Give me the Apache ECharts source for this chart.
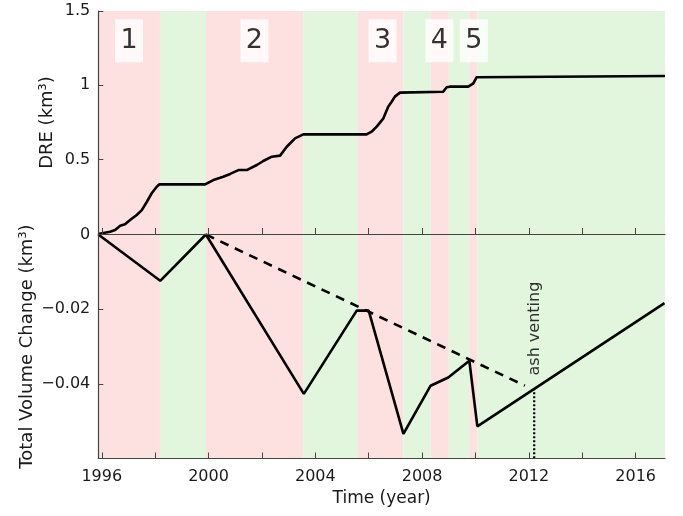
<!DOCTYPE html>
<html>
<head>
<meta charset="utf-8">
<script src="https://cdn.jsdelivr.net/npm/echarts@6/dist/echarts.min.js"></script>
<style>html,body{margin:0;padding:0;background:#fff;}#c{width:683px;height:516px;}</style>
</head>
<body>
<div id="c"></div>
<script>
// ---- data ----
const dreYears = [1995.87, 1996.31, 1996.5, 1996.69, 1996.87, 1997.06, 1997.31, 1997.5, 1997.69, 1997.87, 1998.06, 1998.16, 1999.87, 2000.18, 2000.55, 2000.81, 2001.12, 2001.43, 2001.81, 2002.05, 2002.37, 2002.68, 2002.93, 2003.24, 2003.55, 2005.92, 2006.11, 2006.3, 2006.55, 2006.73, 2006.86, 2006.98, 2007.17, 2008.79, 2008.92, 2009.04, 2009.73, 2009.92, 2010.04, 2010.1, 2017.1];
const dreValues = [0, 0.015, 0.027, 0.056, 0.065, 0.094, 0.128, 0.161, 0.217, 0.274, 0.318, 0.334, 0.334, 0.363, 0.385, 0.404, 0.43, 0.43, 0.464, 0.491, 0.52, 0.527, 0.587, 0.643, 0.670, 0.670, 0.688, 0.722, 0.778, 0.856, 0.89, 0.924, 0.951, 0.957, 0.987, 0.991, 0.991, 1.013, 1.054, 1.063, 1.063];

const volYears = [1995.87, 1998.19, 1999.9, 2003.57, 2005.55, 2006.0, 2007.3, 2008.32, 2008.98, 2009.77, 2010.07, 2017.08];
const volValues = [0, -0.0124, 0, -0.0427, -0.0204, -0.0204, -0.0534, -0.0405, -0.0383, -0.0338, -0.0514, -0.0184];

const trendYears = [1999.9, 2011.85];
const trendValues = [0, -0.0405];

const ashYears = [2012.2, 2012.2];
const ashValues = [-0.0412, -0.06];
const ashLabel = 'ash venting';
const ashLabelPos = [2012.23, -0.0252];

const bandEdges = [1995.87, 1998.18, 1999.9, 2003.55, 2005.59, 2007.3, 2008.32, 2009.0, 2009.77, 2010.08, 2017.1];
const bandKinds = ['eruptive', 'pause', 'eruptive', 'pause', 'eruptive', 'pause', 'eruptive', 'pause', 'eruptive', 'pause'];

const phaseNames = ['1', '2', '3', '4', '5'];
const phaseYears = [1997.02, 2001.72, 2006.52, 2008.65, 2009.94];
const phaseY = 1.3;

const xTickYears = [1996, 1998, 2000, 2002, 2004, 2006, 2008, 2010, 2012, 2014, 2016];
const xLabelYears = [1996, 2000, 2004, 2008, 2012, 2016];

const xTitle = 'Time (year)';
const yTopTitle = 'DRE (km³)';
const yBottomTitle = 'Total Volume Change (km³)';

// ---- styling ----
const FONT = 'DejaVu Sans';
const AX = '#444';
const TXT = '#1a1a1a';
const bandColor = {eruptive: '#fde1e1', pause: '#e1f6dc'};
const X_MIN = 1995.87, X_MAX = 2017.1;

const zip = (a, b) => a.map((v, i) => [v, b[i]]);
const bands = bandKinds.map((k, i) => [
  {xAxis: bandEdges[i], itemStyle: {color: bandColor[k]}},
  {xAxis: bandEdges[i + 1]}
]);

const chart = echarts.init(document.getElementById('c'), null, {renderer: 'canvas'});
const minus = v => String(v).replace('-', '\u2212');

chart.setOption({
  animation: false,
  backgroundColor: '#fff',
  textStyle: {fontFamily: FONT},
  grid: [
    {left: 98.3, right: 18, top: 11, height: 223},
    {left: 98.3, right: 18, top: 234.5, height: 224}
  ],
  xAxis: [
    {
      type: 'value', gridIndex: 0, min: X_MIN, max: X_MAX, z: 10,
      axisLine: {show: true, onZero: false, lineStyle: {color: AX, width: 1.2}},
      axisTick: {show: true, inside: true, length: 6, customValues: xTickYears, lineStyle: {color: AX}},
      axisLabel: {show: false},
      splitLine: {show: false}
    },
    {
      type: 'value', gridIndex: 1, min: X_MIN, max: X_MAX, z: 10,
      axisLine: {show: true, onZero: false, lineStyle: {color: AX, width: 1.2}},
      axisTick: {show: true, inside: true, length: 6, customValues: xTickYears, lineStyle: {color: AX}},
      axisLabel: {show: true, customValues: xLabelYears, color: TXT, fontSize: 16, fontFamily: FONT, margin: 10,
        formatter: v => String(Math.round(v))},
      splitLine: {show: false},
      name: xTitle, nameLocation: 'middle', nameGap: 32, nameMoveOverlap: false,
      nameTextStyle: {color: TXT, fontSize: 17, fontFamily: FONT}
    }
  ],
  yAxis: [
    {
      type: 'value', gridIndex: 0, min: 0, max: 1.5, interval: 0.5, z: 10,
      axisLine: {show: true, lineStyle: {color: AX, width: 1.2}},
      axisTick: {show: true, inside: true, length: 5, lineStyle: {color: AX}},
      axisLabel: {color: TXT, fontSize: 16, fontFamily: FONT, margin: 8, showMinLabel: false},
      splitLine: {show: false},
      name: yTopTitle, nameLocation: 'middle', nameGap: 42, nameMoveOverlap: false,
      nameTextStyle: {color: TXT, fontSize: 18, fontFamily: FONT}
    },
    {
      type: 'value', gridIndex: 1, min: -0.06, max: 0, interval: 0.02, z: 10,
      axisLine: {show: true, lineStyle: {color: AX, width: 1.2}},
      axisTick: {show: true, inside: true, length: 5, lineStyle: {color: AX}},
      axisLabel: {color: TXT, fontSize: 16, fontFamily: FONT, margin: 8, showMinLabel: false,
        formatter: v => minus(v)},
      splitLine: {show: false},
      name: yBottomTitle, nameLocation: 'middle', nameGap: 62, nameMoveOverlap: false,
      nameTextStyle: {color: TXT, fontSize: 18, fontFamily: FONT}
    }
  ],
  series: [
    {type: 'line', xAxisIndex: 0, yAxisIndex: 0, data: [], z: 1, silent: true,
      markArea: {silent: true, data: bands}},
    {type: 'line', xAxisIndex: 1, yAxisIndex: 1, data: [], z: 1, silent: true,
      markArea: {silent: true, data: bands}},
    {type: 'line', name: 'DRE', xAxisIndex: 0, yAxisIndex: 0, data: zip(dreYears, dreValues),
      showSymbol: false, z: 5, lineStyle: {color: '#000', width: 2.6}},
    {type: 'line', name: 'trend', xAxisIndex: 1, yAxisIndex: 1, data: zip(trendYears, trendValues),
      showSymbol: false, z: 5, lineStyle: {color: '#000', width: 2.6, type: [9, 7]}},
    {type: 'line', name: 'volume', xAxisIndex: 1, yAxisIndex: 1, data: zip(volYears, volValues),
      showSymbol: false, z: 5, lineStyle: {color: '#000', width: 2.6}},
    {type: 'line', name: 'ash', xAxisIndex: 1, yAxisIndex: 1, data: zip(ashYears, ashValues),
      showSymbol: false, z: 5, lineStyle: {color: '#000', width: 2.2, type: [2, 2]}},
    {type: 'scatter', xAxisIndex: 1, yAxisIndex: 1, symbolSize: 0, z: 6, silent: true,
      data: [ashLabelPos],
      label: {show: true, position: 'inside', rotate: 90, formatter: ashLabel,
        color: '#000', fontSize: 16, fontFamily: FONT}},
    {type: 'scatter', xAxisIndex: 0, yAxisIndex: 0, symbolSize: 0, z: 6, silent: true,
      data: phaseYears.map((x, i) => ({value: [x, phaseY], name: phaseNames[i]})),
      label: {show: true, position: 'inside', formatter: p => p.name,
        backgroundColor: '#fff', width: 28, height: 43, lineHeight: 43, align: 'center',
        verticalAlign: 'middle', color: '#000', fontSize: 27, fontFamily: FONT}}
  ]
});
</script>
</body>
</html>
